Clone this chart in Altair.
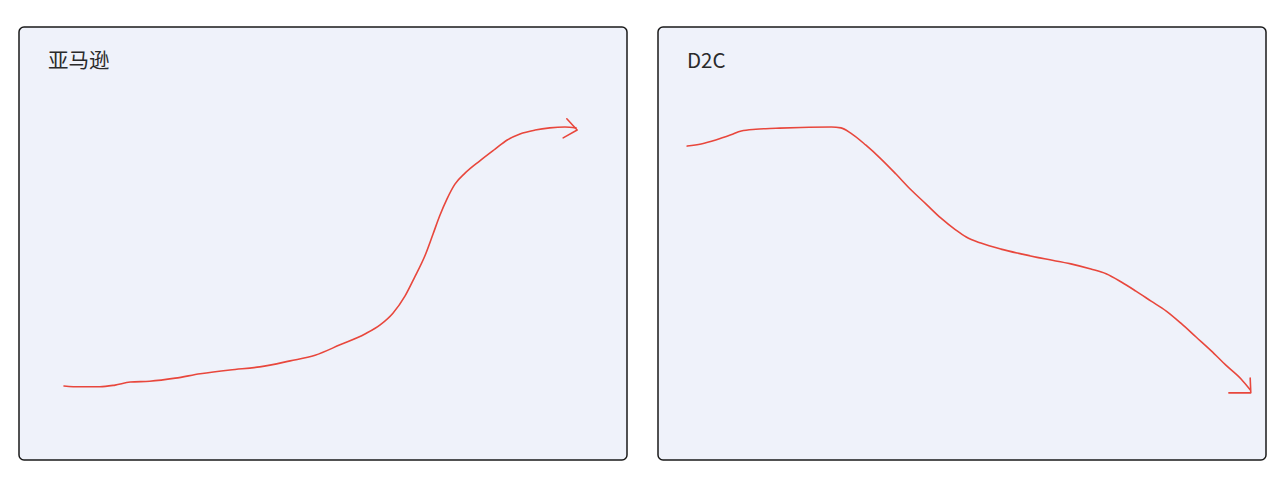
import altair as alt
import pandas as pd

# Panel titles
titles = ["亚马逊", "D2C"]

# Amazon trend (x: 0-100 time scale, y: 0-100 value scale)
amazon_x = [7.4, 10.0, 13.3, 15.8, 18.3, 21.5, 25.7, 29.8, 34.7, 39.6, 44.6, 48.7, 52.8, 56.9,
            59.4, 61.5, 63.5, 65.1, 66.8, 68.1, 69.2, 70.4, 71.7, 73.4, 75.8, 78.3, 80.3, 82.4,
            84.9, 87.3, 89.8, 91.6]
amazon_y = [17.1, 16.9, 16.9, 17.3, 18.0, 18.2, 18.9, 19.9, 20.8, 21.5, 22.9, 24.2, 26.6, 29.1,
            31.2, 33.9, 37.9, 42.3, 47.3, 52.2, 56.4, 60.3, 63.7, 66.3, 69.1, 71.8, 73.9, 75.3,
            76.2, 76.7, 76.9, 76.7]
amazon_arrow_x = [90.1, 91.8, 89.5]
amazon_arrow_y = [78.8, 76.2, 74.4]

# D2C trend
d2c_x = [4.8, 7.1, 9.5, 12.0, 13.7, 16.1, 19.4, 23.5, 28.5, 30.1, 31.7, 34.2, 36.7, 39.1, 41.6,
         44.1, 46.5, 49.0, 50.7, 53.1, 56.4, 59.7, 63.8, 67.9, 71.2, 73.7, 76.2, 78.6, 81.1,
         83.6, 86.0, 88.5, 91.0, 93.4, 95.9, 97.4]
d2c_y = [72.5, 73.0, 73.9, 75.1, 76.0, 76.4, 76.6, 76.8, 76.9, 76.7, 75.5, 72.7, 69.5, 66.1, 62.4,
         59.1, 55.9, 53.1, 51.5, 50.1, 48.7, 47.6, 46.4, 45.3, 44.1, 43.0, 41.1, 39.0, 36.7,
         34.4, 31.6, 28.4, 25.2, 21.9, 18.7, 16.2]
d2c_arrow_x = [97.4, 97.5, 93.9]
d2c_arrow_y = [18.9, 15.5, 15.5]

RED = "#e8473c"
W, H = 608, 433


def panel(title, xs, ys, ax, ay):
    line_df = pd.DataFrame({"x": xs, "y": ys, "o": list(range(len(xs)))})
    arrow_df = pd.DataFrame({"x": ax, "y": ay, "o": list(range(len(ax)))})
    xs_ = alt.Scale(domain=[0, 100], nice=False, zero=False)
    ys_ = alt.Scale(domain=[0, 100], nice=False, zero=False)
    line = alt.Chart(line_df).mark_line(
        color=RED, strokeWidth=1.6, interpolate="monotone", strokeCap="round"
    ).encode(
        x=alt.X("x:Q", scale=xs_, axis=None),
        y=alt.Y("y:Q", scale=ys_, axis=None),
        order="o:Q",
    )
    arrow = alt.Chart(arrow_df).mark_line(
        color=RED, strokeWidth=1.6, strokeCap="round", strokeJoin="round"
    ).encode(
        x=alt.X("x:Q", scale=xs_, axis=None),
        y=alt.Y("y:Q", scale=ys_, axis=None),
        order="o:Q",
    )
    label = alt.Chart(pd.DataFrame({"t": [title]})).mark_text(
        align="left", baseline="middle", fontSize=20.5, color="#2a2a2a",
        font="Noto Sans CJK SC",
    ).encode(x=alt.value(29), y=alt.value(35), text="t:N")
    return alt.layer(line, arrow, label).properties(width=W, height=H)


chart = alt.hconcat(
    panel(titles[0], amazon_x, amazon_y, amazon_arrow_x, amazon_arrow_y),
    panel(titles[1], d2c_x, d2c_y, d2c_arrow_x, d2c_arrow_y),
    spacing=29,
).properties(
    padding={"left": 10, "top": 18, "right": 5, "bottom": 5},
    background="white",
).configure_view(
    fill="#eff2fa", stroke="#1a1a1a", strokeWidth=1.5, cornerRadius=5
)

chart.save("out.html", embed_options={"renderer": "svg", "actions": False})
